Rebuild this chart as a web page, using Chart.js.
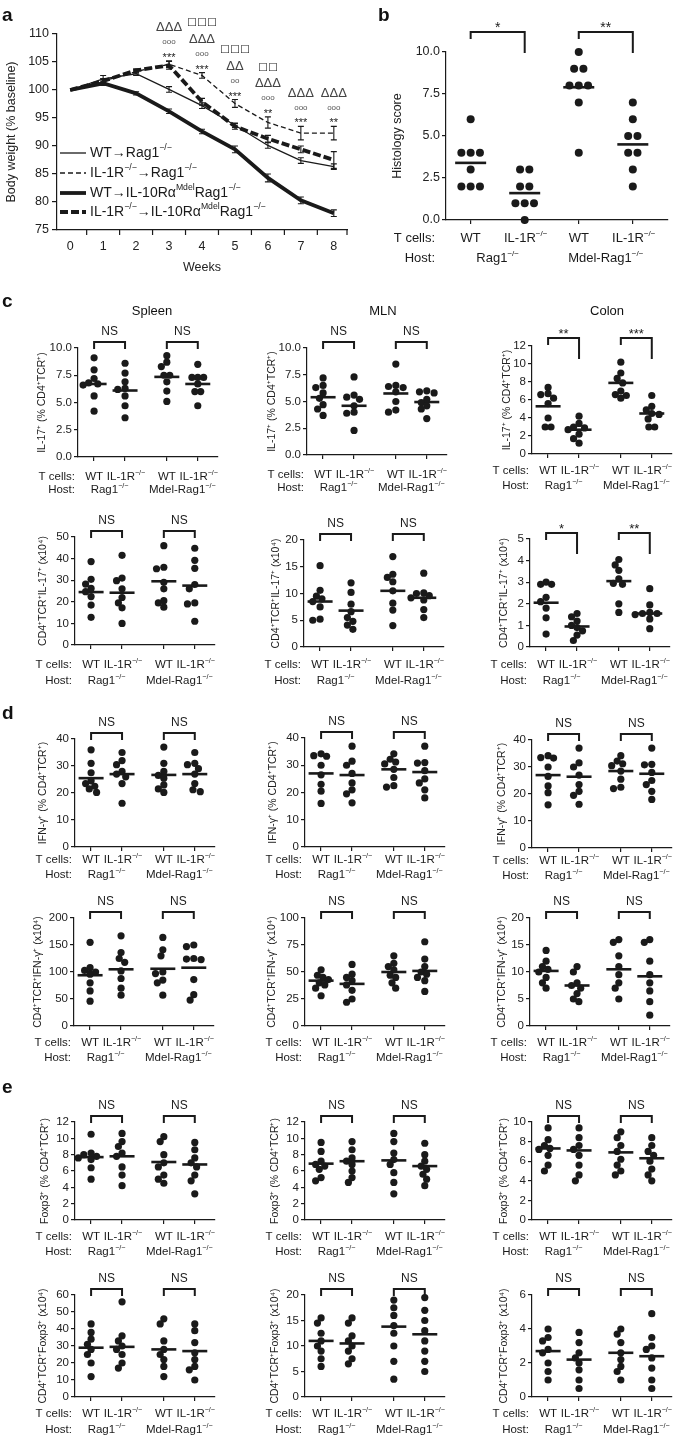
<!DOCTYPE html>
<html><head><meta charset="utf-8">
<script src="https://cdn.jsdelivr.net/npm/chart.js@4.4.1/dist/chart.umd.min.js"></script>
<style>
html,body{margin:0;padding:0;background:#fff;}
#wrap{position:relative;width:685px;height:1437px;overflow:hidden;background:#fff;}
</style></head><body><div id="wrap"></div>
<script>
// ---------------- DATA ----------------
const weeks = [0,1,2,3,4,5,6,7,8];
const seriesNames = ['WT→Rag1^{−/−}','IL-1R^{−/−}→Rag1^{−/−}','WT→IL-10Rα^{Mdel}Rag1^{−/−}','IL-1R^{−/−}→IL-10Rα^{Mdel}Rag1^{−/−}'];
const wtRag   = [100,102.0,102.9,100.1,97.2,93.7,90.1,87.4,86.3];
const ilRag   = [100,101.6,103.3,104.6,102.6,97.6,94.2,92.3,92.3];
const wtMdel  = [100,101.2,99.4,96.2,92.6,89.4,84.3,80.3,78.0];
const ilMdel  = [100,101.6,103.5,104.4,97.9,93.5,91.3,89.4,87.5];
const wtRagErr  = [0,0.6,0.3,0.5,0.5,0.4,0.5,0.5,0.5];
const ilRagErr  = [0,0.4,0.3,0.6,0.5,0.7,1.0,1.2,1.2];
const wtMdelErr = [0,0.4,0.3,0.4,0.4,0.6,0.7,0.6,0.6];
const ilMdelErr = [0,0.4,0.3,0.7,0.6,0.5,0.6,0.6,1.5];
const sigStars   = ['','','','***','***','***','**','***','**'];
const sigCircles = ['','','','ooo','ooo','oo','ooo','ooo','ooo'];
const sigDeltas  = ['','','','ΔΔΔ','ΔΔΔ','ΔΔ','ΔΔΔ','ΔΔΔ','ΔΔΔ'];
const sigSquares = ['','','','','□□□','□□□','□□','',''];

const tCellLabels = ['WT','IL-1R^{−/−}','WT','IL-1R^{−/−}'];
const hostLabels  = ['Rag1^{−/−}','Mdel-Rag1^{−/−}'];

const bHisto = [[6,4,4,4,3,2,2,2],[3,3,2,2,1,1,1,0],[10,9,9,8,8,8,7,4],[7,6,5,5,4,4,3,2]];
const bHistoMean = [3.4,1.6,7.9,4.5];
const bSig = ['*','**'];

const cSpleenPct = [[9.1,8.0,7.2,6.8,6.7,6.6,5.6,4.2],[8.6,7.7,6.9,6.3,6.2,5.6,4.7,3.6],[9.3,8.7,8.3,7.5,7.5,6.9,6.05,5.1],[8.5,7.3,7.3,7.3,6.7,6.0,6.0,4.7]];
const cSpleenPctMean = [6.7,6.1,7.35,6.7];
const cMLNPct = [[7.2,6.5,6.3,5.8,5.3,4.7,4.3,3.7],[7.3,5.6,5.4,5.2,4.6,4.0,3.9,2.3],[8.5,6.5,6.4,6.3,5.9,5.0,4.2,4.0],[6.0,5.9,5.8,5.2,4.9,4.6,4.3,3.4]];
const cMLNPctMean = [5.4,4.6,5.75,4.95];
const cColonPct = [[7.4,6.7,6.6,6.2,5.6,4.0,3.0,3.0],[4.2,3.4,3.0,2.9,2.7,2.2,1.7,1.2],[10.2,9.0,8.4,7.9,7.0,6.6,6.5,6.2],[6.5,5.3,4.9,4.5,4.4,3.9,3.0,3.0]];
const cColonPctMean = [5.3,2.7,7.9,4.5];
const cSig = ['NS','NS'], cColonSig = ['**','***'];

const cSpleenNum = [[38.6,30.4,28.2,26.2,24.7,22.4,18.5,12.8],[41.5,31.0,29.8,26.0,22.0,19.5,17.2,10.0],[46.0,36.0,35.3,29.0,26.0,20.5,19.5,17.5],[44.8,39.2,35.5,28.0,26.0,19.5,19.0,11.0]];
const cSpleenNumMean = [24.5,24.2,29.5,27.5];
const cMLNNum = [[15.2,10.6,9.5,9.0,8.5,7.5,5.2,5.0],[12.0,10.2,8.0,6.6,5.5,4.8,4.1,3.3],[16.9,13.6,13.0,12.2,10.5,8.2,6.9,4.0],[13.8,10.1,10.0,9.6,9.2,8.8,7.0,5.5]];
const cMLNNumMean = [8.5,6.8,10.5,9.2];
const cColonNum = [[3.0,2.9,2.9,2.3,2.1,1.8,1.35,0.6],[1.55,1.4,1.2,1.0,0.9,0.75,0.55,0.3],[4.05,3.8,3.55,3.15,2.95,2.9,2.0,1.6],[2.7,1.95,1.6,1.55,1.55,1.5,1.3,0.85]];
const cColonNumMean = [2.05,0.95,3.05,1.55];
const cColonNumSig = ['*','**'];

const dSpleenPct = [[36,31,27.5,24.5,23.5,22.5,21.5,20.2],[35,32,30.5,28,27,26,23.5,16.2],[37,31,28,26.5,25.5,23,21.5,20.2],[35,31,30.5,29,27,23.5,21.2,20.5]];
const dSpleenPctMean = [25.5,27,26.7,27];
const dMLNPct = [[34.2,33.5,33.3,30.0,26.5,23.0,20.5,16.0],[37,31.5,30,27,23.5,21,19.5,16.2],[34.2,32.2,31.2,30.5,28.5,25.5,22.5,22.0],[37,31,30.8,28,25,23.5,21,18]];
const dMLNPctMean = [27,26.4,28.5,27.5];
const dColonPct = [[34.2,33.5,33.3,30.0,26.5,23.0,20.5,16.0],[37,31.5,30,27,23.5,21,19.5,16.2],[34.2,32.2,31.2,30.5,28.5,25.5,22.5,22.0],[37,31,30.8,28,25,23.5,21,18]];
const dColonPctMean = [27,26.4,28.5,27.5];

const dSpleenNum = [[155,108,103,100,96,80,65,46],[167,136,125,118,102,88,70,57],[164,141,130,100,97,85,80,57],[150,147,125,124,123,86,58,48]];
const dSpleenNumMean = [94,105,106,108];
const dMLNNum = [[52,47,45,43,40,38,35,28],[57,48,45,42,38,33,25,22],[65,58,55,52,47,45,40,35],[78,62,55,50,48,45,42,32]];
const dMLNNumMean = [42,39,50,51];
const dColonNum = [[14,12,11,10.5,10,9,8,7],[11,10,8,7.5,7,6,5,4.5],[16,15.5,13,11,9.5,8,7,5],[16,15.5,12,9.5,8,6.5,4.5,2]];
const dColonNumMean = [10.2,7.5,10.5,9.2];

const eSpleenPct = [[10.5,8.2,8.0,7.8,7.6,7.4,6.4,5.0],[10.6,9.6,9.0,8.2,7.8,6.5,5.5,4.2],[10.2,9.6,8.0,7.0,6.5,5.5,5.0,4.5],[9.5,8.6,7.6,7.0,6.5,5.5,4.8,3.2]];
const eSpleenPctMean = [7.7,7.8,7.1,6.8];
const eMLNPct = [[9.5,8.4,7.2,6.8,6.6,6.2,5.2,4.8],[9.6,8.6,7.6,7.2,6.8,6.0,5.2,4.6],[10.6,9.6,8.2,7.4,6.8,5.8,4.6,3.2],[9.4,8.0,7.2,6.6,6.2,5.6,5.0,4.2]];
const eMLNPctMean = [6.9,7.2,7.3,6.6];
const eColonPct = [[9.4,8.2,7.6,7.3,7.2,6.6,5.6,5.0],[9.4,8.4,7.6,7.2,6.6,5.6,4.6,4.0],[9.0,8.4,7.6,7.0,6.2,5.6,5.0,4.6],[8.4,7.6,7.0,6.6,6.0,5.2,4.6,4.0]];
const eColonPctMean = [7.3,7.1,6.9,6.3];

const eSpleenNum = [[43,38,34,31,28,25,20,12],[56,36,33,30,28,25,20,17],[46,43,33,28,25,22,18,12],[43,39,32,26,22,18,16,10]];
const eSpleenNumMean = [29,29.5,28,27];
const eMLNNum = [[15.5,14.5,12.5,11,10,9,7.5,6],[15.5,14.5,12,11,10,9,7.5,6.5],[19,17.5,16,14,12.5,10,7,3.5],[19.5,17,15,13,11,9,7,5]];
const eMLNNumMean = [11,10.5,13.8,12.3];
const eColonNum = [[4.0,3.5,3.3,2.8,2.6,2.0,1.5,1.0],[3.8,3.2,2.6,2.3,2.0,1.6,1.0,0.5],[4.0,3.7,3.2,2.6,2.2,1.8,1.5,1.0],[4.9,3.5,3.0,2.8,2.3,1.7,1.0,0.5]];
const eColonNumMean = [2.7,2.2,2.6,2.4];

// ---------------- HELPERS ----------------
const FONT = '"Liberation Sans", Arial, Helvetica, sans-serif';
const INK = '#1a1a1a';
Chart.defaults.font.family = FONT;
Chart.defaults.color = '#222';
const wrap = document.getElementById('wrap');
function mkCanvas(x,y,w,h){const c=document.createElement('canvas');c.width=w;c.height=h;c.style.cssText=`position:absolute;left:${x}px;top:${y}px;width:${w}px;height:${h}px;`;wrap.appendChild(c);return c;}
function addText(txt,cx,cy,size,bold,align){const d=document.createElement('div');d.textContent=txt;
  d.style.cssText=`position:absolute;top:${cy-size/2}px;left:${cx}px;font:${bold?'bold ':''}${size}px ${FONT};line-height:${size}px;color:#111;white-space:nowrap;${align==='center'?'transform:translateX(-50%);':''}`;wrap.appendChild(d);}
function parseRich(s){const segs=[];const re=/\^\{([^}]*)\}/g;let last=0,m;while((m=re.exec(s))){if(m.index>last)segs.push({t:s.slice(last,m.index),sup:false});segs.push({t:m[1],sup:true});last=re.lastIndex;}if(last<s.length)segs.push({t:s.slice(last),sup:false});return segs;}
function drawRich(ctx,s,x,y,size,align){const segs=parseRich(s);const ss=size*0.62;let w=0;
  segs.forEach(g=>{ctx.font=(g.sup?ss:size)+'px '+FONT;g.w=ctx.measureText(g.t).width;w+=g.w;});
  let cx=align==='center'?x-w/2:align==='right'?x-w:x;ctx.textAlign='left';ctx.textBaseline='middle';ctx.fillStyle='#1a1a1a';
  segs.forEach(g=>{ctx.font=(g.sup?ss:size)+'px '+FONT;ctx.fillText(g.t,cx,g.sup?y-size*0.36:y);cx+=g.w;});}
// deterministic beeswarm: spreads points of similar value sideways (layout only)
function swarm(vals,ppy,d,ov){
  const n=vals.length,idx=vals.map((v,i)=>i).sort((a,b)=>vals[b]-vals[a]);
  const lim=d*ov;
  const cand=[0];for(let k=1;k<=16;k++)cand.push(-k*0.25*d,k*0.25*d);
  const pos=new Array(n).fill(0),placed=[];
  idx.forEach(i=>{const py=vals[i]*ppy;for(const px of cand){if(placed.every(q=>Math.hypot(q.px-px,q.py-py)>=lim-0.01)){placed.push({px,py});pos[i]=px;break;}}});
  const groups={};vals.forEach((v,i)=>{(groups[v]=groups[v]||[]).push(i);});
  Object.values(groups).forEach(g=>{if(g.length<2)return;g.sort((a,b)=>pos[a]-pos[b]);const nw=g.map((i,j)=>(j-(g.length-1)/2)*lim);
    const ok=g.every((i,j)=>vals.every((v,k)=>g.includes(k)||Math.hypot(pos[k]-nw[j],(v-vals[i])*ppy)>=lim-0.01));
    if(ok)g.forEach((i,j)=>{pos[i]=nw[j];});});
  return pos;
}
function decoPlugin(p,xs){
  return {id:'deco',afterDraw(chart){
    const ctx=chart.ctx,sx=chart.scales.x,a=chart.chartArea;ctx.save();
    const bh=p.bh??6,ll=p.ll??7,rl=p.rl??21;
    p.sig.forEach((s,k)=>{
      const x1=sx.getPixelForValue(xs[2*k]),x2=sx.getPixelForValue(xs[2*k+1]);const yh=a.top-bh;const ns=(s==='NS');
      ctx.strokeStyle=INK;ctx.lineWidth=2;ctx.setLineDash([]);ctx.beginPath();
      ctx.moveTo(x1,yh+ll);ctx.lineTo(x1,yh);ctx.lineTo(x2,yh);ctx.lineTo(x2,yh+(ns?ll:rl));ctx.stroke();
      ctx.fillStyle=INK;ctx.textAlign='center';ctx.textBaseline='middle';
      if(ns){ctx.font=(p.nsfs||12)+'px '+FONT;ctx.fillText(s,(x1+x2)/2,yh-10);}
      else{ctx.font=(p.stfs||13)+'px '+FONT;ctx.fillText(s,(x1+x2)/2,yh-4);}
    });
    const lfs=p.lfs||11.5,y1=a.bottom+(p.ly??18),y2=y1+(p.hy??15),rx=a.left-(p.lrx??3);
    drawRich(ctx,'T cells:',rx,y1,lfs,'right');
    tCellLabels.forEach((t,g)=>drawRich(ctx,t,sx.getPixelForValue(xs[g])+(g%2?1:0),y1,lfs,'center'));
    drawRich(ctx,'Host:',rx,y2,lfs,'right');
    hostLabels.forEach((t,k)=>drawRich(ctx,t,(sx.getPixelForValue(xs[2*k])+sx.getPixelForValue(xs[2*k+1]))/2,y2,lfs,'center'));
    ctx.restore();
  }};
}
function dotPanel(p){
  const yW=70,padTop=50,axisH=58,padR=6;
  const xs=p.xs||[0,1,2.35,3.35],xmin=p.xmin??-0.52,xmax=p.xmax??4.0,ppx=p.ppx||33;
  const plotW=(xmax-xmin)*ppx,plotH=p.B-p.T;
  const cv=mkCanvas(p.L-yW,p.T-padTop,Math.round(yW+plotW+padR),padTop+plotH+axisH);
  const r=p.r||3.6,gap=p.gap??0.6,ppy=plotH/p.ymax,mw=p.mw||12.5,ov=p.ov??0.8;
  const ds=p.data.map((vals,g)=>{const off=swarm(vals,ppy,2*r+gap,ov);
    return {data:vals.map((v,i)=>({x:xs[g]+off[i]/ppx,y:v})),pointRadius:r,pointHoverRadius:r,pointBackgroundColor:INK,pointBorderWidth:0,clip:false};});
  ds.push({data:p.means.map((m,g)=>({x:xs[g],y:m})),pointStyle:'line',pointRadius:mw,pointHoverRadius:mw,pointBorderColor:INK,pointBorderWidth:2.6,clip:false});
  const fs=p.fs||11.5,tfs=p.tfs||10.5;
  new Chart(cv,{type:'scatter',data:{datasets:ds},options:{
    responsive:false,animation:false,events:[],
    layout:{padding:{left:0,top:padTop,right:padR,bottom:0}},
    plugins:{legend:{display:false},tooltip:{enabled:false}},
    scales:{
      x:{type:'linear',min:xmin,max:xmax,afterBuildTicks:s=>{s.ticks=xs.map(v=>({value:v}));},ticks:{display:false},
        grid:{display:true,drawOnChartArea:false,drawTicks:true,tickLength:4,color:INK,lineWidth:1.2},border:{display:true,color:INK,width:1.2},afterFit:s=>{s.height=axisH;}},
      y:{min:0,max:p.ymax,ticks:{stepSize:p.step,autoSkip:false,color:'#222',font:{size:fs},padding:2,callback:v=>p.dec?Number(v).toFixed(p.dec):String(v)},
        grid:{drawOnChartArea:false,drawTicks:true,tickLength:4,color:INK,lineWidth:1.2},border:{display:true,color:INK,width:1.2},
        title:{display:true,text:p.ytitle,font:{size:tfs},color:'#222',padding:{top:yW-p.tdx-tfs*0.6,bottom:0}},afterFit:s=>{s.width=yW;}}
    }},plugins:[decoPlugin(p,xs)]});
}

// ---------------- PANEL A ----------------
const aSeries=[wtRag,ilRag,wtMdel,ilMdel];
const aErr=[wtRagErr,ilRagErr,wtMdelErr,ilMdelErr];
const aStyle=[{w:1.3,dash:[]},{w:1.3,dash:[5,3]},{w:3.8,dash:[]},{w:3.8,dash:[8,3]}];
const aPlugin={id:'aDeco',afterDatasetsDraw(chart){
  const ctx=chart.ctx,sx=chart.scales.x,sy=chart.scales.y,a=chart.chartArea;ctx.save();
  ctx.strokeStyle=INK;ctx.lineWidth=1.1;ctx.setLineDash([]);
  aSeries.forEach((s,i)=>s.forEach((v,j)=>{const e=aErr[i][j];if(!e)return;const x=sx.getPixelForValue(weeks[j]);const y1=sy.getPixelForValue(v+e),y2=sy.getPixelForValue(v-e);
    ctx.beginPath();ctx.moveTo(x,y1);ctx.lineTo(x,y2);ctx.moveTo(x-3,y1);ctx.lineTo(x+3,y1);ctx.moveTo(x-3,y2);ctx.lineTo(x+3,y2);ctx.stroke();}));
  ctx.lineWidth=1.2;ctx.beginPath();
  const marks=weeks.slice(0,-1).map(w=>w+0.5).concat([sx.max]);
  marks.forEach(m=>{const x=sx.getPixelForValue(m);ctx.moveTo(x,a.bottom);ctx.lineTo(x,a.bottom+5);});ctx.stroke();
  ctx.textAlign='center';ctx.textBaseline='middle';
  weeks.forEach((w,j)=>{if(!sigStars[j])return;const x=sx.getPixelForValue(w);
    let top=Math.min(...aSeries.map((s,i)=>sy.getPixelForValue(s[j]+aErr[i][j])));
    let y=top-6;ctx.fillStyle='#222';ctx.font='11px '+FONT;ctx.fillText(sigStars[j],x,y+3);
    y-=13;ctx.fillStyle='#555';ctx.font='8px '+FONT;ctx.fillText(sigCircles[j],x,y);
    y-=14;ctx.fillStyle='#444';ctx.font='13px '+FONT;ctx.fillText(sigDeltas[j],x,y);
    y-=17;if(sigSquares[j]){ctx.fillStyle='#222';ctx.font='10.5px "DejaVu Sans", sans-serif';ctx.fillText(sigSquares[j],x,y);}
  });
  const rows=[153,173,193,212];
  rows.forEach((yy,i)=>{ctx.beginPath();ctx.strokeStyle=INK;ctx.setLineDash(aStyle[i].dash);ctx.lineWidth=aStyle[i].w;ctx.moveTo(60,yy);ctx.lineTo(86,yy);ctx.stroke();ctx.setLineDash([]);
    drawRich(ctx,seriesNames[i],90,yy,14,'left');});
  ctx.restore();
}};
new Chart(mkCanvas(0,0,360,290),{type:'line',data:{datasets:aSeries.map((s,i)=>({data:weeks.map((w,j)=>({x:w,y:s[j]})),borderColor:INK,borderWidth:aStyle[i].w,borderDash:aStyle[i].dash,pointRadius:0,tension:0,fill:false}))},
  options:{responsive:false,animation:false,events:[],layout:{padding:{left:0,top:34,right:13,bottom:0}},
    plugins:{legend:{display:false},tooltip:{enabled:false}},
    scales:{
      x:{type:'linear',min:-0.4,max:8.4,afterBuildTicks:s=>{s.ticks=weeks.map(v=>({value:v}));},ticks:{font:{size:12.5},color:'#222',padding:9,autoSkip:false},
        grid:{display:false,drawTicks:false},border:{display:true,color:INK,width:1.2},
        title:{display:true,text:'Weeks',font:{size:12.5},color:'#222',padding:{top:4,bottom:14.5}},afterFit:s=>{s.height=60;}},
      y:{min:75,max:110,ticks:{stepSize:5,autoSkip:false,font:{size:12.5},color:'#222',padding:3},grid:{drawOnChartArea:false,drawTicks:true,tickLength:5,color:INK,lineWidth:1.2},
        border:{display:true,color:INK,width:1.2},title:{display:true,text:'Body weight (% baseline)',font:{size:12.5},color:'#222',padding:{top:4,bottom:0}},afterFit:s=>{s.width=57;}}
    }},plugins:[aPlugin]});

// ---------------- PANEL B ----------------
dotPanel({L:446,T:52,B:220,ymax:10,step:2.5,dec:1,ytitle:'Histology score',tdx:48,data:bHisto,means:bHistoMean,sig:bSig,
  xs:[0,1,2,3],xmin:-0.456,xmax:3.649,ppx:57,r:4,gap:1.8,ov:1.0,mw:15.5,fs:12.5,tfs:12.5,lfs:13,ly:18,hy:20,lrx:11,bh:20,ll:7,rl:21,stfs:14});

// ---------------- PANEL C ----------------
const tPct='IL-17⁺ (% CD4⁺TCR⁺)', tNum='CD4⁺TCR⁺IL-17⁺ (x10⁴)';
dotPanel({L:78,T:348,B:457,ymax:10,step:2.5,dec:1,ytitle:tPct,tdx:36,data:cSpleenPct,means:cSpleenPctMean,sig:cSig,ly:20,hy:13});
dotPanel({L:307,T:348,B:455,ymax:10,step:2.5,dec:1,ytitle:tPct,tdx:35,data:cMLNPct,means:cMLNPctMean,sig:cSig,ly:20,hy:13});
dotPanel({L:532,T:346,B:454,ymax:12,step:2,ytitle:tPct,tdx:25,data:cColonPct,means:cColonPctMean,sig:cColonSig,bh:8,ly:17,hy:15});
dotPanel({L:75,T:537,B:645,ymax:50,step:10,ytitle:tNum,tdx:32,data:cSpleenNum,means:cSpleenNumMean,sig:cSig,ly:20,hy:16});
dotPanel({L:304,T:540,B:647,ymax:20,step:5,ytitle:tNum,tdx:28,data:cMLNNum,means:cMLNNumMean,sig:cSig,ly:18,hy:16});
dotPanel({L:530,T:539,B:647,ymax:5,step:1,ytitle:tNum,tdx:26,data:cColonNum,means:cColonNumMean,sig:cColonNumSig,ly:18,hy:16});

// ---------------- PANEL D ----------------
const tIPct='IFN-γ⁺ (% CD4⁺TCR⁺)', tINum='CD4⁺TCR⁺IFN-γ⁺ (x10⁴)';
dotPanel({L:75,T:739,B:847,ymax:40,step:10,ytitle:tIPct,tdx:32,data:dSpleenPct,means:dSpleenPctMean,sig:cSig,ly:13,hy:15});
dotPanel({L:305,T:738,B:847,ymax:40,step:10,ytitle:tIPct,tdx:32,data:dMLNPct,means:dMLNPctMean,sig:cSig,ly:13,hy:15});
dotPanel({L:532,T:740,B:848,ymax:40,step:10,ytitle:tIPct,tdx:30,data:dColonPct,means:dColonPctMean,sig:cSig,ly:13,hy:15});
dotPanel({L:74,T:918,B:1026,ymax:200,step:50,ytitle:tINum,tdx:36,data:dSpleenNum,means:dSpleenNumMean,sig:cSig,ly:17,hy:15});
dotPanel({L:305,T:918,B:1026,ymax:100,step:25,ytitle:tINum,tdx:33,data:dMLNNum,means:dMLNNumMean,sig:cSig,ly:17,hy:15});
dotPanel({L:530,T:918,B:1026,ymax:20,step:5,ytitle:tINum,tdx:28,data:dColonNum,means:dColonNumMean,sig:cSig,ly:17,hy:15});

// ---------------- PANEL E ----------------
const tFPct='Foxp3⁺ (% CD4⁺TCR⁺)', tFNum='CD4⁺TCR⁺Foxp3⁺ (x10⁴)';
dotPanel({L:75,T:1122,B:1220,ymax:12,step:2,ytitle:tFPct,tdx:30,data:eSpleenPct,means:eSpleenPctMean,sig:cSig,ly:17,hy:15});
dotPanel({L:305,T:1122,B:1220,ymax:12,step:2,ytitle:tFPct,tdx:30,data:eMLNPct,means:eMLNPctMean,sig:cSig,ly:17,hy:15});
dotPanel({L:532,T:1122,B:1220,ymax:10,step:2,ytitle:tFPct,tdx:28,data:eColonPct,means:eColonPctMean,sig:cSig,ly:17,hy:15});
dotPanel({L:75,T:1295,B:1397,ymax:60,step:10,ytitle:tFNum,tdx:32,data:eSpleenNum,means:eSpleenNumMean,sig:cSig,ly:17,hy:16});
dotPanel({L:305,T:1295,B:1397,ymax:20,step:5,ytitle:tFNum,tdx:30,data:eMLNNum,means:eMLNNumMean,sig:cSig,ly:17,hy:16});
dotPanel({L:532,T:1295,B:1397,ymax:6,step:2,ytitle:tFNum,tdx:28,data:eColonNum,means:eColonNumMean,sig:cSig,ly:17,hy:16});

// ---------------- LABELS ----------------
addText('a',2,14,19,true);addText('b',378,14,19,true);addText('c',2,300,19,true);addText('d',2,712,19,true);addText('e',2,1086,19,true);
addText('Spleen',152,310,13,false,'center');addText('MLN',383,310,13,false,'center');addText('Colon',607,310,13,false,'center');
</script></body></html>
